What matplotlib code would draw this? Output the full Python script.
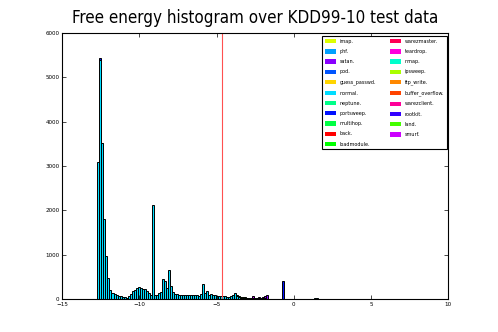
import numpy as np
import matplotlib
matplotlib.use("Agg")
import matplotlib.pyplot as plt
from matplotlib.patches import Patch

# ---- data ----
bin_start = -12.72
bin_width = 0.13
threshold = -4.62

normal_counts = [
    3080, 5400, 3510, 1810, 970, 470, 200, 130, 110, 80,      # 0-9
    70, 60, 50, 30, 20, 60, 100, 180, 190, 240,               # 10-19
    260, 250, 230, 220, 180, 120, 80, 2130, 80, 90,           # 20-29
    140, 150, 450, 400, 250, 660, 290, 150, 110, 100,         # 30-39
    95, 90, 90, 95, 90, 85, 90, 95, 90, 80,                   # 40-49
    70, 100, 345, 130, 180, 90, 110, 75, 80, 70,              # 50-59
    60, 70, 60, 55, 50, 50, 60, 80, 120, 70,                  # 60-69
    40, 25, 20, 15, 15, 12, 10, 12, 10, 8,                    # 70-79
    10, 8, 10, 8, 6, 5, 4, 3, 3, 2,                           # 80-89
    2, 0, 0, 0, 0, 0, 0, 0, 0, 0,                             # 90-99
    0, 0, 0, 0, 0, 0, 0, 0, 10, 15,                           # 100-109
]

# other classes: bin index -> count
satan_bins = [82, 83, 84]
satan_counts = [30, 60, 70]
smurf_bins = [77, 80]
smurf_counts = [40, 25]
land_bins = [69, 70, 71, 72, 73, 74]
land_counts = [20, 25, 20, 15, 15, 10]
portsweep_bins = [1, 2, 92]
portsweep_counts = [30, 20, 400]

classes = ["imap.", "phf.", "satan.", "pod.", "guess_passwd.", "normal.",
           "neptune.", "portsweep.", "multihop.", "back.", "loadmodule.",
           "warezmaster.", "teardrop.", "nmap.", "ipsweep.", "ftp_write.",
           "buffer_overflow.", "warezclient.", "rootkit.", "land.", "smurf."]
colors = ["#ddff00", "#00a0ff", "#8800ff", "#0055ff", "#ffd500", "#00ddff",
          "#00ff88", "#0011ff", "#00ff44", "#ff0000", "#00ff00",
          "#ff0055", "#ff00dd", "#00ffcc", "#aaff00", "#ff8800",
          "#ff4400", "#ff0099", "#3300ff", "#44ff00", "#cc00ff"]
col = dict(zip(classes, colors))

# ---- plot ----
fig = plt.figure(figsize=(4.98, 3.32), dpi=100)
ax = fig.add_axes([0.125, 0.1, 0.775, 0.8])

n = len(normal_counts)
lefts = bin_start + bin_width * np.arange(n)
bottom = np.array(normal_counts, dtype=float)
ax.bar(lefts, normal_counts, width=bin_width, align="edge",
       color=col["normal."], edgecolor="black", linewidth=0.7)

for name, bins, counts in [("satan.", satan_bins, satan_counts),
                           ("smurf.", smurf_bins, smurf_counts),
                           ("land.", land_bins, land_counts),
                           ("portsweep.", portsweep_bins, portsweep_counts)]:
    b = np.array(bins)
    c = np.array(counts, dtype=float)
    ax.bar(lefts[b], c, width=bin_width, align="edge", bottom=bottom[b],
           color=col[name], edgecolor="black", linewidth=0.7)
    bottom[b] += c

ax.axvline(threshold, color="#ff5050", linewidth=0.8)

ax.set_xlim(-15, 10)
ax.set_ylim(0, 6000)
ax.set_xticks([-15, -10, -5, 0, 5, 10])
ax.set_yticks(range(0, 6001, 1000))
ax.tick_params(direction="in", top=True, right=True, labelsize=4.5,
               length=3, width=0.5, pad=2)
for lbl in ax.get_xticklabels() + ax.get_yticklabels():
    lbl.set_fontstretch("condensed")
for s in ax.spines.values():
    s.set_linewidth(0.8)

ax.set_title("Free energy histogram over KDD99-10 test data", fontsize=12.2,
             fontstretch="condensed", pad=7)

handles = [Patch(facecolor=c, edgecolor="none", label=l)
           for l, c in zip(classes, colors)]
leg = ax.legend(handles=handles, ncol=2, loc="upper right",
                bbox_to_anchor=(0.9966, 0.9887), borderaxespad=0.0,
                fontsize=3.5, fancybox=False, framealpha=1,
                handlelength=2.26, handleheight=1.0, labelspacing=1.07,
                columnspacing=2.8, handletextpad=0.8, borderpad=0.55)
leg.get_frame().set_edgecolor("black")
leg.get_frame().set_linewidth(0.8)

fig.savefig("out.png", dpi=100)
